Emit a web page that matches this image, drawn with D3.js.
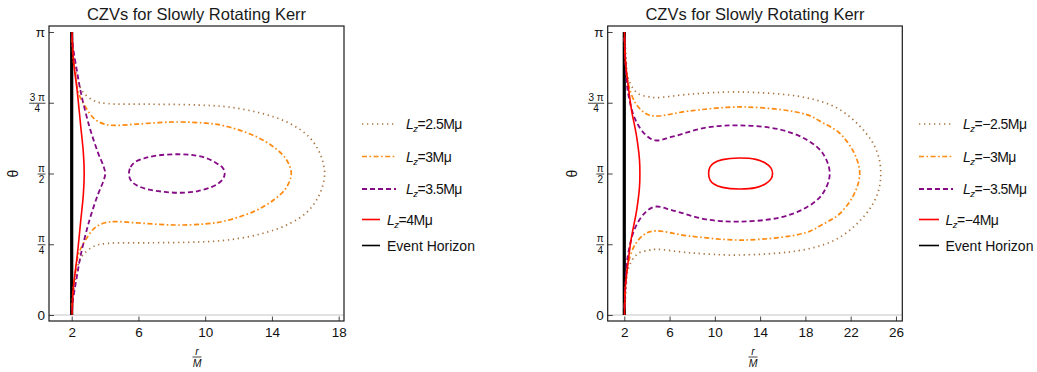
<!DOCTYPE html>
<html>
<head>
<meta charset="utf-8">
<script src="https://cdn.jsdelivr.net/npm/d3@7"></script>
<style>
  body { margin: 0; background: #fff; }
  svg { display: block; font-family: "Liberation Sans", Arial, sans-serif; }
</style>
</head>
<body>
<svg width="1037" height="372"></svg>
<script>
// points are [r/M, θ/π]
const horizon = [[2, 0], [2, 1]];

const leftLz4 = [[2.02,1.0],[2.1,0.904],[2.34,0.786],[2.54,0.668],[2.7,0.573],[2.75,0.5],[2.7,0.427],[2.54,0.332],[2.34,0.214],[2.1,0.096],[2.02,0.0]];
const leftLz35 = [[2.02,0.99],[2.07,0.95],[2.3,0.868],[2.55,0.786],[3.05,0.668],[3.58,0.573],[3.9,0.527],[4.01,0.5],[3.9,0.473],[3.58,0.427],[3.05,0.332],[2.55,0.214],[2.3,0.132],[2.07,0.05],[2.02,0.01]];
const leftLz35Loop = [[5.43,0.5],[5.53,0.523],[5.81,0.541],[6.37,0.554],[7.17,0.564],[8.37,0.568],[9.37,0.564],[10.17,0.552],[10.77,0.533],[11.08,0.518],[11.17,0.5],[11.08,0.482],[10.77,0.464],[10.37,0.452],[9.57,0.438],[8.57,0.432],[7.57,0.435],[6.57,0.444],[5.87,0.459],[5.53,0.477]];
const leftLz3 = [[2.02,0.98],[2.1,0.9],[2.24,0.845],[2.4,0.786],[2.8,0.738],[3.4,0.691],[4.0,0.674],[4.57,0.67],[6.0,0.675],[8.17,0.682],[10.0,0.678],[11.17,0.668],[12.96,0.633],[14.16,0.591],[14.86,0.55],[15.16,0.5],[14.86,0.45],[14.16,0.409],[12.96,0.367],[11.17,0.332],[10.0,0.322],[8.17,0.318],[6.0,0.325],[4.57,0.33],[4.0,0.326],[3.4,0.309],[2.8,0.262],[2.4,0.214],[2.24,0.155],[2.1,0.1],[2.02,0.02]];
const leftLz25 = [[2.02,0.98],[2.16,0.904],[2.24,0.868],[2.4,0.821],[2.7,0.786],[3.38,0.756],[4.17,0.747],[6.57,0.745],[9.57,0.742],[11.37,0.735],[13.36,0.713],[14.96,0.68],[16.16,0.633],[16.86,0.573],[17.16,0.5],[16.86,0.427],[16.16,0.367],[14.96,0.32],[13.36,0.287],[11.37,0.265],[9.57,0.258],[6.57,0.255],[4.17,0.253],[3.38,0.244],[2.7,0.214],[2.4,0.179],[2.24,0.132],[2.16,0.096],[2.02,0.02]];

const rightLz4 = [[2.02,1.0],[2.09,0.904],[2.24,0.845],[2.63,0.727],[3.08,0.633],[3.34,0.55],[3.38,0.5],[3.34,0.45],[3.08,0.367],[2.63,0.273],[2.24,0.155],[2.09,0.096],[2.02,0.0]];
const rightLz4Loop = [[9.45,0.5],[9.58,0.523],[9.95,0.538],[10.68,0.549],[12.15,0.555],[13.62,0.55],[14.45,0.537],[14.95,0.52],[15.1,0.5],[14.95,0.48],[14.45,0.463],[13.62,0.45],[12.15,0.445],[10.68,0.451],[9.95,0.462],[9.58,0.477]];
const rightLz35 = [[2.02,0.98],[2.1,0.9],[2.33,0.786],[2.97,0.691],[3.85,0.638],[4.74,0.617],[6.25,0.63],[9.21,0.662],[12.15,0.67],[15.68,0.656],[18.04,0.621],[19.5,0.573],[20.15,0.5],[19.5,0.427],[18.04,0.379],[15.68,0.344],[12.15,0.33],[9.21,0.338],[6.25,0.37],[4.74,0.383],[3.85,0.362],[2.97,0.309],[2.33,0.214],[2.1,0.1],[2.02,0.02]];
const rightLz3 = [[2.02,0.98],[2.1,0.9],[2.33,0.821],[2.97,0.75],[3.85,0.713],[4.74,0.703],[7.74,0.721],[12.74,0.735],[18.04,0.709],[19.5,0.68],[20.98,0.644],[22.3,0.573],[22.8,0.5],[22.3,0.427],[20.98,0.356],[19.5,0.32],[18.04,0.291],[12.74,0.265],[7.74,0.279],[4.74,0.297],[3.85,0.287],[2.97,0.25],[2.33,0.179],[2.1,0.1],[2.02,0.02]];
const rightLz25 = [[2.02,0.98],[2.15,0.92],[2.3,0.845],[2.74,0.803],[3.32,0.78],[4.2,0.771],[4.8,0.768],[7.74,0.78],[12.15,0.788],[18.04,0.768],[20.98,0.727],[23.33,0.644],[24.36,0.573],[24.66,0.5],[24.36,0.427],[23.33,0.356],[20.98,0.273],[18.04,0.232],[12.15,0.212],[7.74,0.22],[4.8,0.232],[4.2,0.229],[3.32,0.22],[2.74,0.197],[2.3,0.155],[2.15,0.08],[2.02,0.02]];

const leftTicksX = [2, 6, 10, 14, 18];
const rightTicksX = [2, 6, 10, 14, 18, 22, 26];
const thetaTicks = [0, 0.25, 0.5, 0.75, 1];
const thetaLabels = [["0"], ["π", "4"], ["π", "2"], ["3 π", "4"], ["π"]];
const leftLegend = ["2.5", "3", "3.5", "4"];
const rightLegend = ["−2.5", "−3", "−3.5", "−4"];
const title = "CZVs for Slowly Rotating Kerr";

// line styles
const styles = {
  brown:  { stroke: "#a8743f", width: 1.7, dash: "1.3,3.7" },
  orange: { stroke: "#ff8a10", width: 1.7, dash: "5,2.5,1.6,2.5" },
  purple: { stroke: "#850a85", width: 1.8, dash: "5,3" },
  red:    { stroke: "#ff0000", width: 1.6, dash: null },
  black:  { stroke: "#000000", width: 1.6, dash: null }
};

const svg = d3.select("svg");
const plotTop = 26, plotBottom = 321;
const y = d3.scaleLinear().domain([-0.0212, 1.0212]).range([plotBottom, plotTop]);
const legendRows = [124, 156.5, 189, 219.5, 245.5];

const panels = [
  {
    frameX: [49, 344], xDomain: [0.64, 18.32], ticks: leftTicksX,
    titleX: 196.5, labelX: 197, thetaX: 13.3,
    curves: [["brown", leftLz25, false], ["orange", leftLz3, false], ["purple", leftLz35, false],
             ["purple", leftLz35Loop, true], ["red", leftLz4, false]],
    legend: leftLegend, lineX: 362, longEnd: 396, shortEnd: 380, textLong: 406, textShort: 387
  },
  {
    frameX: [607.7, 902.3], xDomain: [0.535, 26.56], ticks: rightTicksX,
    titleX: 755, labelX: 753, thetaX: 571.7,
    curves: [["brown", rightLz25, false], ["orange", rightLz3, false], ["purple", rightLz35, false],
             ["red", rightLz4, false], ["red", rightLz4Loop, true]],
    legend: rightLegend, lineX: 919, longEnd: 953, shortEnd: 939, textLong: 963, textShort: 945.5
  }
];

function styleLine(sel, st) {
  sel.attr("fill", "none")
    .attr("stroke", st.stroke)
    .attr("stroke-width", st.width)
    .attr("stroke-dasharray", st.dash);
}

function drawPanel(p) {
  const g = svg.append("g");
  const x = d3.scaleLinear().domain(p.xDomain).range(p.frameX);
  const open = d3.line().x(d => x(d[0])).y(d => y(d[1])).curve(d3.curveCatmullRom.alpha(0.5));
  const closed = d3.line().x(d => x(d[0])).y(d => y(d[1])).curve(d3.curveCatmullRomClosed.alpha(0.5));

  // title
  g.append("text")
    .attr("x", p.titleX).attr("y", 19.5)
    .attr("text-anchor", "middle")
    .style("font-size", "16.5px").style("fill", "#1a1a1a")
    .text(title);

  // gray axis at θ = 0
  g.append("line")
    .attr("x1", p.frameX[0]).attr("x2", p.frameX[1])
    .attr("y1", y(0)).attr("y2", y(0))
    .attr("stroke", "#c4c4c4").attr("stroke-width", 1);

  // event horizon
  g.append("path")
    .attr("d", d3.line().x(d => x(d[0])).y(d => y(d[1]))(horizon))
    .attr("stroke", "#000").attr("stroke-width", 3.2).attr("fill", "none");

  // curves
  p.curves.forEach(([key, pts, isClosed]) => {
    g.append("path")
      .attr("d", (isClosed ? closed : open)(pts))
      .call(styleLine, styles[key]);
  });

  // x axis
  const xAxis = g.append("g")
    .attr("transform", `translate(0,${plotBottom})`)
    .call(d3.axisBottom(x).tickValues(p.ticks).tickSizeInner(-4.5).tickSizeOuter(0).tickPadding(6.5));
  xAxis.select(".domain").remove();
  xAxis.selectAll(".tick line").attr("stroke", "#444");
  xAxis.selectAll(".tick text")
    .style("font-size", "13.5px").style("font-family", "Liberation Sans, Arial, sans-serif")
    .attr("fill", "#111");

  // y axis (ticks only, labels drawn as fractions)
  const yAxis = g.append("g")
    .attr("transform", `translate(${p.frameX[0]},0)`)
    .call(d3.axisLeft(y).tickValues(thetaTicks).tickSizeInner(-5).tickSizeOuter(0).tickFormat(""));
  yAxis.select(".domain").remove();
  yAxis.selectAll(".tick line").attr("stroke", "#444");

  const labRight = p.frameX[0] - 4;
  thetaTicks.forEach((t, i) => {
    const lab = thetaLabels[i];
    const ty = y(t);
    if (lab.length === 1) {
      g.append("text")
        .attr("x", labRight).attr("y", ty + 4.8)
        .attr("text-anchor", "end")
        .style("font-size", "13.5px").attr("fill", "#111")
        .text(lab[0]);
    } else {
      const num = g.append("text")
        .attr("x", labRight).attr("y", ty - 2)
        .attr("text-anchor", "end")
        .style("font-size", "10px").attr("fill", "#111")
        .text(lab[0]);
      const w = num.node().getComputedTextLength();
      const cx = labRight - w / 2;
      g.append("line")
        .attr("x1", cx - w / 2 - 0.5).attr("x2", cx + w / 2 + 0.5)
        .attr("y1", ty + 0.5).attr("y2", ty + 0.5)
        .attr("stroke", "#111").attr("stroke-width", 0.8);
      g.append("text")
        .attr("x", cx).attr("y", ty + 9.5)
        .attr("text-anchor", "middle")
        .style("font-size", "10px").attr("fill", "#111")
        .text(lab[1]);
    }
  });

  // frame
  g.append("rect")
    .attr("x", p.frameX[0]).attr("y", plotTop)
    .attr("width", p.frameX[1] - p.frameX[0]).attr("height", plotBottom - plotTop)
    .attr("fill", "none").attr("stroke", "#1a1a1a").attr("stroke-width", 1.2);

  // axis labels
  g.append("text")
    .attr("transform", `translate(${p.thetaX},${y(0.5)}) rotate(-90)`)
    .attr("text-anchor", "middle").attr("dy", "0.35em")
    .style("font-size", "14px").attr("fill", "#111")
    .text("θ");
  g.append("text")
    .attr("x", p.labelX).attr("y", 355)
    .attr("text-anchor", "middle")
    .style("font-size", "10.5px").style("font-style", "italic").attr("fill", "#111")
    .text("r");
  g.append("line")
    .attr("x1", p.labelX - 4.5).attr("x2", p.labelX + 4.5)
    .attr("y1", 357).attr("y2", 357)
    .attr("stroke", "#111").attr("stroke-width", 0.8);
  g.append("text")
    .attr("x", p.labelX).attr("y", 366.5)
    .attr("text-anchor", "middle")
    .style("font-size", "10.5px").style("font-style", "italic").attr("fill", "#111")
    .text("M");

  // legend
  const keys = ["brown", "orange", "purple", "red", "black"];
  keys.forEach((key, i) => {
    const ry = legendRows[i];
    const long = i < 3;
    g.append("line")
      .attr("x1", p.lineX).attr("x2", long ? p.longEnd : p.shortEnd)
      .attr("y1", ry).attr("y2", ry)
      .call(styleLine, styles[key]);
    const txt = g.append("text")
      .attr("x", long ? p.textLong : p.textShort).attr("y", ry + 5)
      .style("font-size", "14px").attr("fill", "#111");
    if (i < 4) {
      txt.style("letter-spacing", "-0.5px");
      txt.append("tspan").style("font-style", "italic").text("L");
      txt.append("tspan").style("font-style", "italic").style("font-size", "9.5px").attr("dy", 3).text("z");
      txt.append("tspan").attr("dy", -3).text(`=${p.legend[i]}Mμ`);
    } else {
      txt.text("Event Horizon");
    }
  });
}

panels.forEach(drawPanel);
</script>
</body>
</html>
